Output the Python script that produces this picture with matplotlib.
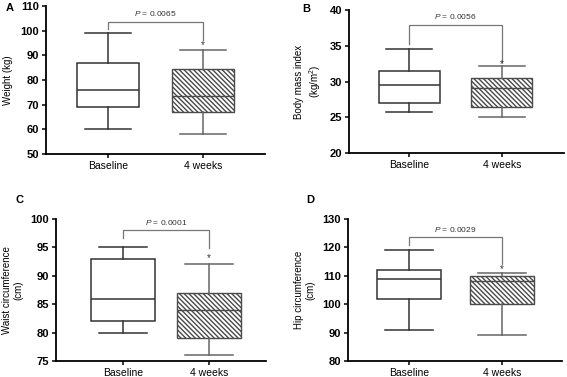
import matplotlib
import matplotlib.pyplot as plt

matplotlib.use('Agg')

plt.rcParams['font.family'] = ['Liberation Sans', 'DejaVu Sans']
plt.rcParams['mathtext.fontset'] = 'custom'
plt.rcParams['mathtext.it'] = 'Liberation Sans:italic'
plt.rcParams['mathtext.rm'] = 'Liberation Sans'
plt.rcParams['hatch.linewidth'] = 1.0

groups = ['Baseline', '4 weeks']

# whisker low, Q1, median, Q3, whisker high
weight_base = [60, 69, 76, 87, 99]
weight_4wk = [58, 67, 73.5, 84.5, 92]
bmi_base = [25.8, 27.0, 29.5, 31.5, 34.6]
bmi_4wk = [25.0, 26.5, 29.1, 30.5, 32.1]
waist_base = [80, 82, 86, 93, 95]
waist_4wk = [76, 79, 84, 87, 92]
hip_base = [91, 102, 109, 112, 119]
hip_4wk = [89, 100, 108, 110, 111]

p_values = ['0.0065', '0.0056', '0.0001', '0.0029']
# bracket top, left end, right end, asterisk
brackets = [
    (103.5, 100.5, 96.2, 94.0),
    (37.9, 35.3, 32.7, 32.4),
    (98.0, 96.7, 94.9, 93.2),
    (123.5, 121.0, 114.0, 112.5),
]

W, H = 567, 377


def px_axes(fig, left, right, top, bottom):
    return fig.add_axes([left / W, 1 - bottom / H, (right - left) / W, (bottom - top) / H])


def stats(vals, label):
    lo, q1, med, q3, hi = vals
    return dict(whislo=lo, q1=q1, med=med, q3=q3, whishi=hi, label=label, fliers=[])


def draw_panel(ax, base, wk, ylim, yticks, ylabel, pval, bracket, xlim, width):
    ax.bxp([stats(base, groups[0])], positions=[0], widths=width,
           patch_artist=True, showfliers=False, capwidths=width * 0.75,
           boxprops=dict(facecolor='white', edgecolor='#333333', linewidth=1.1),
           medianprops=dict(color='#333333', linewidth=1.1),
           whiskerprops=dict(color='#333333', linewidth=1.1),
           capprops=dict(color='#333333', linewidth=1.1))
    ax.bxp([stats(wk, groups[1])], positions=[1], widths=width,
           patch_artist=True, showfliers=False, capwidths=width * 0.75,
           boxprops=dict(facecolor='white', edgecolor='#4a4a4a', linewidth=1.0,
                         hatch='\\' * 7),
           medianprops=dict(color='#4a4a4a', linewidth=1.0),
           whiskerprops=dict(color='#666666', linewidth=1.1),
           capprops=dict(color='#666666', linewidth=1.1))
    ax.set_xlim(*xlim)
    ax.set_ylim(*ylim)
    ax.set_yticks(yticks)
    ax.set_xticks([0, 1])
    ax.set_xticklabels(groups, fontsize=7.5)
    for t in ax.get_yticklabels():
        t.set_fontweight('bold')
        t.set_fontsize(8)
    ax.set_ylabel(ylabel, fontsize=7, labelpad=5)
    ax.spines['top'].set_visible(False)
    ax.spines['right'].set_visible(False)
    for s in ('left', 'bottom'):
        ax.spines[s].set_linewidth(1.3)
    ax.tick_params(length=3, width=1.1, pad=2)

    top, left_end, right_end, star = bracket
    ax.plot([0, 0, 1, 1], [left_end, top, top, right_end], color='#777777', lw=0.9,
            clip_on=False)
    ax.text(0.5, top + (ylim[1] - ylim[0]) * 0.025, r'$\it{P}$ = ' + pval,
            ha='center', va='bottom', fontsize=6, color='#333333')
    ax.text(1, star, '*', ha='center', va='center', fontsize=7, color='#333333')


fig = plt.figure(figsize=(W / 100, H / 100), dpi=100)

ax_a = px_axes(fig, 46, 265, 6, 154)
draw_panel(ax_a, weight_base, weight_4wk, (50, 110), range(50, 111, 10),
           'Weight (kg)', p_values[0], brackets[0], (-0.65, 1.65), 0.65)

ax_b = px_axes(fig, 349, 564, 10, 153)
draw_panel(ax_b, bmi_base, bmi_4wk, (20, 40), range(20, 41, 5),
           'Body mass index\n(kg/m$^2$)', p_values[1], brackets[1], (-0.65, 1.67), 0.66)

ax_c = px_axes(fig, 56, 266, 219, 361)
draw_panel(ax_c, waist_base, waist_4wk, (75, 100), range(75, 101, 5),
           'Waist circumference\n(cm)', p_values[2], brackets[2], (-0.78, 1.66), 0.74)

ax_d = px_axes(fig, 348, 562, 219, 361)
draw_panel(ax_d, hip_base, hip_4wk, (80, 130), range(80, 131, 10),
           'Hip circumference\n(cm)', p_values[3], brackets[3], (-0.66, 1.65), 0.69)

for letter, x, y in [('A', 6, 8), ('B', 302, 9), ('C', 16, 200), ('D', 306, 200)]:
    fig.text(x / W, 1 - y / H, letter, fontsize=8, fontweight='bold', va='center')

fig.savefig('out.png', dpi=100)
